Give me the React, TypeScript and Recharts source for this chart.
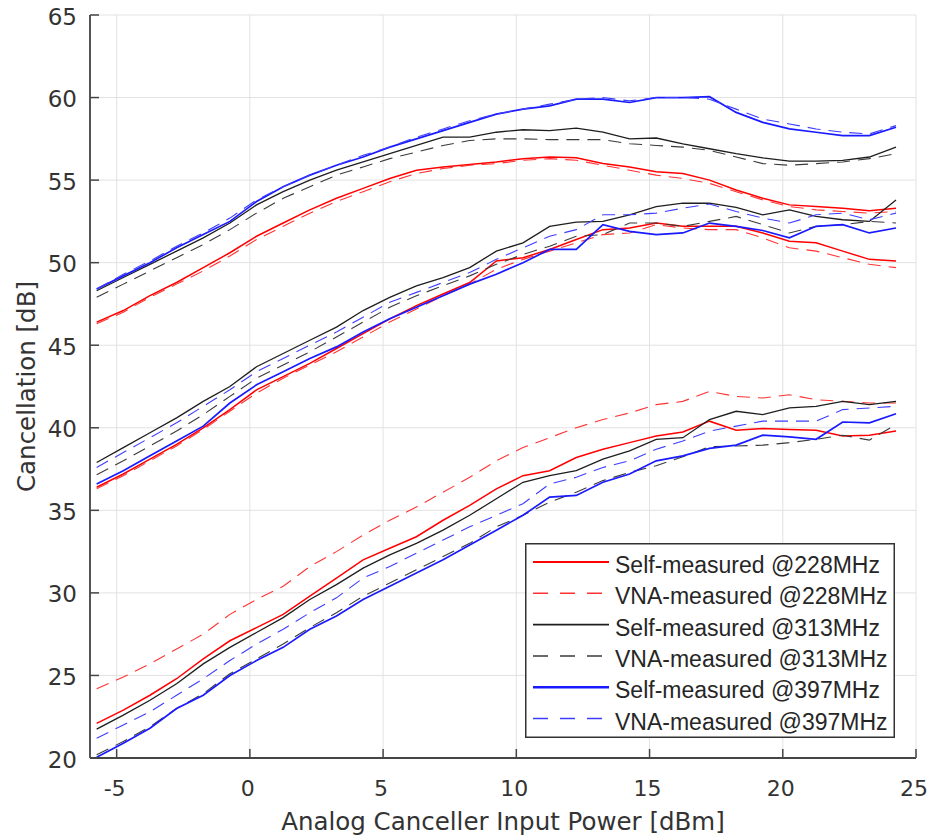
import React from 'react';
import { LineChart, Line, XAxis, YAxis, CartesianGrid, Legend, Label } from 'recharts';

// Analog canceller input power [dBm]
const power = [-5.75, -4.75, -3.75, -2.75, -1.75, -0.75, 0.25, 1.25, 2.25, 3.25, 4.25, 5.25, 6.25, 7.25, 8.25, 9.25, 10.25, 11.25, 12.25, 13.25, 14.25, 15.25, 16.25, 17.25, 18.25, 19.25, 20.25, 21.25, 22.25, 23.25, 24.25];

// Upper group of curves
const selfHigh228 = [46.4, 47.1, 48.0, 48.8, 49.7, 50.6, 51.6, 52.4, 53.2, 53.9, 54.5, 55.1, 55.6, 55.8, 55.95, 56.1, 56.3, 56.4, 56.35, 56.0, 55.8, 55.5, 55.4, 55.0, 54.4, 53.9, 53.5, 53.4, 53.3, 53.15, 53.3];
const vnaHigh228 = [46.3, 47.0, 47.9, 48.7, 49.5, 50.4, 51.4, 52.2, 53.0, 53.7, 54.3, 54.9, 55.4, 55.7, 55.9, 56.0, 56.2, 56.3, 56.2, 55.9, 55.6, 55.3, 55.1, 54.8, 54.3, 53.8, 53.4, 53.2, 53.1, 53.0, 53.1];
const selfHigh313 = [48.3, 49.1, 49.9, 50.7, 51.5, 52.4, 53.5, 54.3, 55.0, 55.6, 56.1, 56.6, 57.1, 57.6, 57.6, 57.9, 58.05, 58.0, 58.15, 57.9, 57.5, 57.55, 57.2, 56.9, 56.6, 56.35, 56.15, 56.15, 56.2, 56.4, 57.0];
const vnaHigh313 = [47.9, 48.7, 49.5, 50.3, 51.1, 52.0, 53.0, 53.9, 54.6, 55.3, 55.8, 56.3, 56.7, 57.1, 57.4, 57.5, 57.5, 57.45, 57.45, 57.45, 57.2, 57.1, 57.0, 56.8, 56.4, 56.0, 55.9, 56.0, 56.1, 56.3, 56.6];
const selfHigh397 = [48.4, 49.2, 50.0, 50.9, 51.7, 52.5, 53.7, 54.6, 55.3, 55.9, 56.4, 57.0, 57.5, 58.0, 58.5, 59.0, 59.3, 59.5, 59.9, 59.9, 59.7, 60.0, 60.0, 60.05, 59.1, 58.5, 58.1, 57.9, 57.7, 57.7, 58.2];
const vnaHigh397 = [48.4, 49.3, 50.1, 51.0, 51.8, 52.7, 53.8, 54.6, 55.3, 55.9, 56.5, 57.0, 57.6, 58.1, 58.6, 59.0, 59.3, 59.6, 59.9, 60.0, 59.8, 60.0, 60.0, 59.9, 59.3, 58.7, 58.4, 58.1, 57.9, 57.8, 58.3];

// Middle group of curves
const selfMid228 = [36.4, 37.2, 38.1, 39.0, 40.0, 41.1, 42.3, 43.1, 43.9, 44.8, 45.7, 46.6, 47.4, 48.1, 48.8, 50.1, 50.3, 50.8, 51.4, 52.0, 52.1, 52.4, 52.2, 52.2, 52.2, 51.8, 51.3, 51.2, 50.7, 50.2, 50.1];
const vnaMid228 = [36.3, 37.1, 38.0, 38.9, 39.9, 41.0, 42.1, 43.0, 43.8, 44.6, 45.5, 46.4, 47.2, 48.0, 48.7, 49.6, 50.2, 50.7, 51.2, 51.7, 51.8, 52.3, 52.1, 52.0, 52.0, 51.5, 50.9, 50.7, 50.3, 49.9, 49.7];
const selfMid313 = [37.9, 38.8, 39.7, 40.6, 41.6, 42.5, 43.7, 44.5, 45.3, 46.1, 47.1, 47.9, 48.6, 49.1, 49.7, 50.7, 51.2, 52.2, 52.45, 52.5, 52.9, 53.4, 53.6, 53.6, 53.35, 52.9, 53.2, 52.8, 52.6, 52.5, 53.8];
const vnaMid313 = [37.15, 38.0, 38.9, 39.8, 40.8, 41.9, 43.0, 43.8, 44.6, 45.5, 46.4, 47.3, 48.0, 48.6, 49.2, 49.9, 50.5, 51.0, 51.6, 51.7, 52.4, 52.4, 52.2, 52.5, 52.8, 52.3, 51.8, 52.2, 52.3, 52.5, 52.4];
const selfMid397 = [36.6, 37.4, 38.3, 39.2, 40.1, 41.5, 42.6, 43.4, 44.2, 44.9, 45.8, 46.6, 47.3, 48.0, 48.7, 49.3, 50.0, 50.8, 50.8, 52.3, 51.9, 51.7, 51.8, 52.4, 52.2, 51.95, 51.5, 52.2, 52.3, 51.8, 52.1];
const vnaMid397 = [37.6, 38.5, 39.4, 40.3, 41.3, 42.3, 43.4, 44.2, 45.0, 45.8, 46.7, 47.6, 48.2, 48.8, 49.4, 50.2, 50.9, 51.6, 52.0, 52.9, 52.9, 53.0, 53.3, 53.55, 53.1, 52.7, 52.4, 52.9, 53.0, 52.6, 53.0];

// Lower group of curves
const selfLow228 = [22.1, 22.9, 23.8, 24.8, 26.0, 27.1, 27.9, 28.7, 29.8, 30.9, 32.0, 32.7, 33.4, 34.4, 35.3, 36.3, 37.1, 37.4, 38.2, 38.7, 39.1, 39.5, 39.75, 40.4, 39.85, 39.95, 39.9, 39.85, 39.5, 39.55, 39.8];
const vnaLow228 = [24.2, 24.9, 25.7, 26.6, 27.5, 28.7, 29.6, 30.4, 31.6, 32.5, 33.5, 34.4, 35.2, 36.1, 37.0, 38.0, 38.8, 39.4, 40.0, 40.5, 40.9, 41.4, 41.6, 42.2, 41.9, 41.8, 42.0, 41.7, 41.6, 41.5, 41.5];
const selfLow313 = [21.75, 22.6, 23.5, 24.5, 25.7, 26.7, 27.6, 28.5, 29.6, 30.5, 31.5, 32.3, 33.0, 33.8, 34.7, 35.7, 36.7, 37.1, 37.4, 38.1, 38.6, 39.3, 39.4, 40.5, 41.0, 40.8, 41.2, 41.3, 41.6, 41.4, 41.6];
const vnaLow313 = [20.2, 21.0, 21.9, 23.0, 23.9, 25.1, 26.0, 26.9, 27.9, 28.8, 29.8, 30.6, 31.4, 32.2, 33.0, 34.0, 34.7, 35.5, 36.1, 36.8, 37.3, 37.7, 38.25, 38.85, 38.9, 38.95, 39.1, 39.3, 39.55, 39.25, 40.2];
const selfLow397 = [20.05, 20.9, 21.8, 23.0, 23.8, 25.0, 25.9, 26.7, 27.8, 28.6, 29.6, 30.4, 31.2, 32.0, 32.9, 33.8, 34.7, 35.8, 35.9, 36.7, 37.2, 38.0, 38.3, 38.75, 38.95, 39.55, 39.45, 39.3, 40.35, 40.3, 40.85];
const vnaLow397 = [21.2, 22.0, 22.8, 23.8, 24.8, 25.9, 26.9, 27.8, 28.8, 29.7, 30.9, 31.6, 32.4, 33.2, 34.0, 34.7, 35.4, 36.6, 37.0, 37.6, 38.0, 38.7, 39.2, 39.8, 40.1, 40.4, 40.4, 40.4, 41.1, 41.2, 41.3];

const xTicks = [-5, 0, 5, 10, 15, 20, 25];
const yTicks = [20, 25, 30, 35, 40, 45, 50, 55, 60, 65];

const legendLabels = [
  'Self-measured @228MHz',
  'VNA-measured @228MHz',
  'Self-measured @313MHz',
  'VNA-measured @313MHz',
  'Self-measured @397MHz',
  'VNA-measured @397MHz',
];

type Style = { stroke: string; width: number; dash?: string };
const lineStyles: Style[] = [
  { stroke: '#ff0000', width: 1.5 },
  { stroke: '#ff3333', width: 1.1, dash: '13 8' },
  { stroke: '#1e1e1e', width: 1.3 },
  { stroke: '#3a3a3a', width: 1.1, dash: '13 8' },
  { stroke: '#1a1aff', width: 1.7 },
  { stroke: '#3d3dff', width: 1.1, dash: '13 8' },
];

const seriesList: { key: string; values: number[]; style: number }[] = [
  { key: 'selfHigh228', values: selfHigh228, style: 0 },
  { key: 'vnaHigh228', values: vnaHigh228, style: 1 },
  { key: 'selfHigh313', values: selfHigh313, style: 2 },
  { key: 'vnaHigh313', values: vnaHigh313, style: 3 },
  { key: 'selfHigh397', values: selfHigh397, style: 4 },
  { key: 'vnaHigh397', values: vnaHigh397, style: 5 },
  { key: 'selfMid228', values: selfMid228, style: 0 },
  { key: 'vnaMid228', values: vnaMid228, style: 1 },
  { key: 'selfMid313', values: selfMid313, style: 2 },
  { key: 'vnaMid313', values: vnaMid313, style: 3 },
  { key: 'selfMid397', values: selfMid397, style: 4 },
  { key: 'vnaMid397', values: vnaMid397, style: 5 },
  { key: 'selfLow228', values: selfLow228, style: 0 },
  { key: 'vnaLow228', values: vnaLow228, style: 1 },
  { key: 'selfLow313', values: selfLow313, style: 2 },
  { key: 'vnaLow313', values: vnaLow313, style: 3 },
  { key: 'selfLow397', values: selfLow397, style: 4 },
  { key: 'vnaLow397', values: vnaLow397, style: 5 },
];

const data = power.map((x, i) => {
  const row: Record<string, number> = { x };
  seriesList.forEach((s) => {
    row[s.key] = s.values[i];
  });
  return row;
});

const TICK_FONT = 'DejaVu Sans, Verdana, sans-serif';
const AXIS_COLOR = '#454545';
const TEXT_COLOR = '#333333';

const XTick = (props: any) => {
  const { x, y, payload } = props;
  return (
    <g>
      <line x1={x} y1={y} x2={x} y2={y - 9} stroke={AXIS_COLOR} strokeWidth={1.5} />
      <text x={x - 2} y={y + 38} textAnchor="middle" fontFamily={TICK_FONT} fontSize={22} fill={TEXT_COLOR}>
        {String(payload.value)}
      </text>
    </g>
  );
};

const YTick = (props: any) => {
  const { x, y, payload } = props;
  return (
    <g>
      <line x1={x} y1={y} x2={x + 9} y2={y} stroke={AXIS_COLOR} strokeWidth={1.5} />
      <text x={x - 13} y={y + 9.5} textAnchor="end" fontFamily={TICK_FONT} fontSize={23} fill={TEXT_COLOR}>
        {String(payload.value)}
      </text>
    </g>
  );
};

const renderLegend = () => (
  <svg width={370} height={195} style={{ display: 'block' }}>
    <rect x={0.75} y={0.75} width={368.5} height={193.5} fill="#ffffff" stroke="#333333" strokeWidth={1.5} />
    {legendLabels.map((label, i) => {
      const st = lineStyles[i];
      const cy = 19 + i * 31.3;
      return (
        <g key={label}>
          <line
            x1={8}
            x2={84}
            y1={cy}
            y2={cy}
            stroke={st.stroke}
            strokeWidth={i === 4 ? 2.5 : st.width + 0.4}
            strokeDasharray={st.dash ? '15 12' : undefined}
          />
          <text x={90} y={cy + 11} fontFamily="Liberation Sans, Arial, sans-serif" fontSize={23} fill="#262626">
            {label}
          </text>
        </g>
      );
    })}
  </svg>
);

export default function App() {
  return (
    <div style={{ position: 'absolute', left: 0, top: 0, width: 929, height: 840, background: '#ffffff' }}>
      <LineChart width={929} height={840} data={data} margin={{ top: 15, right: 13, bottom: 0, left: 0 }}>
        <CartesianGrid stroke="#e2e2e2" strokeWidth={1} />
        <XAxis
          dataKey="x"
          type="number"
          domain={[-6, 25]}
          ticks={xTicks}
          interval={0}
          allowDataOverflow
          height={82}
          tickSize={0}
          tickMargin={0}
          tickLine={false}
          tick={<XTick />}
          axisLine={{ stroke: AXIS_COLOR, strokeWidth: 1.8 }}
        >
          <Label
            content={(p: any) => {
              const vb = p.viewBox || { x: 90, y: 758, width: 826, height: 82 };
              return (
                <text
                  x={vb.x + vb.width / 2}
                  y={vb.y + 72}
                  textAnchor="middle"
                  fontFamily={TICK_FONT}
                  fontSize={24.5}
                  fill={TEXT_COLOR}
                >
                  Analog Canceller Input Power [dBm]
                </text>
              );
            }}
          />
        </XAxis>
        <YAxis
          type="number"
          domain={[20, 65]}
          ticks={yTicks}
          interval={0}
          allowDataOverflow
          width={90}
          tickSize={0}
          tickMargin={0}
          tickLine={false}
          tick={<YTick />}
          axisLine={{ stroke: AXIS_COLOR, strokeWidth: 1.8 }}
        >
          <Label
            content={(p: any) => {
              const vb = p.viewBox || { x: 0, y: 15, width: 90, height: 743 };
              const cy = vb.y + vb.height / 2;
              return (
                <text
                  transform={`translate(34.5, ${cy}) rotate(-90)`}
                  x={0}
                  y={0}
                  textAnchor="middle"
                  fontFamily={TICK_FONT}
                  fontSize={24.5}
                  fill={TEXT_COLOR}
                >
                  Cancellation [dB]
                </text>
              );
            }}
          />
        </YAxis>
        <Legend
          layout="horizontal"
          align="center"
          verticalAlign="middle"
          content={renderLegend}
          wrapperStyle={{ left: 525, top: 543, width: 370, height: 195 }}
        />
        {seriesList.map((s) => {
          const st = lineStyles[s.style];
          return (
            <Line
              key={s.key}
              dataKey={s.key}
              type="linear"
              stroke={st.stroke}
              strokeWidth={st.width}
              strokeDasharray={st.dash}
              dot={false}
              activeDot={false}
              legendType="none"
              isAnimationActive={false}
            />
          );
        })}
      </LineChart>
    </div>
  );
}
